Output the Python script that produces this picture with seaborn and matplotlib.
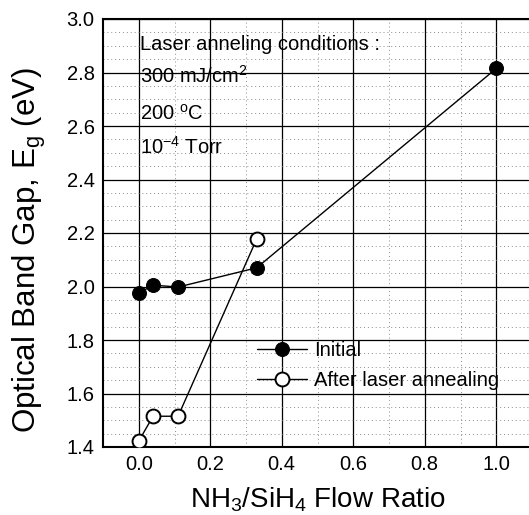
import numpy as np
import pandas as pd
import matplotlib
matplotlib.use("Agg")
import matplotlib.pyplot as plt
import seaborn as sns
from matplotlib.ticker import MultipleLocator, FormatStrFormatter

# =========================
# Data
# =========================
ratio_initial = [0.0, 0.04, 0.11, 0.33, 1.0]
gap_initial = [1.975, 2.005, 1.998, 2.07, 2.815]

ratio_after = [0.0, 0.04, 0.11, 0.33]
gap_after = [1.422, 1.515, 1.515, 2.178]

series_labels = ["Initial", "After laser annealing"]
xticks = [0.0, 0.2, 0.4, 0.6, 0.8, 1.0]
yticks = [1.4, 1.6, 1.8, 2.0, 2.2, 2.4, 2.6, 2.8, 3.0]

conditions_text = [
    "Laser anneling conditions :",
    "300 mJ/cm$^2$",
    "200 $^o$C",
    "10$^{-4}$ Torr",
]

df_init = pd.DataFrame({"ratio": ratio_initial, "gap": gap_initial})
df_after = pd.DataFrame({"ratio": ratio_after, "gap": gap_after})

# =========================
# Style
# =========================
sns.set_style("white")
plt.rcParams["font.family"] = ["Liberation Sans", "DejaVu Sans"]
plt.rcParams["mathtext.default"] = "regular"
for key in ["text.color", "axes.labelcolor", "xtick.color", "ytick.color"]:
    plt.rcParams[key] = "black"

fig = plt.figure(figsize=(5.29, 5.15), dpi=100)
ax = fig.add_axes([103 / 529, 68 / 515, 429 / 529, 428 / 515])

sns.lineplot(
    data=df_init, x="ratio", y="gap", sort=False, estimator=None,
    color="black", linewidth=1.0, marker="o", markersize=10,
    markerfacecolor="black", markeredgecolor="black",
    label=series_labels[0], ax=ax, zorder=5,
)
sns.lineplot(
    data=df_after, x="ratio", y="gap", sort=False, estimator=None,
    color="black", linewidth=1.0, marker="o", markersize=10,
    markerfacecolor="white", markeredgecolor="black", markeredgewidth=1.4,
    label=series_labels[1], ax=ax, zorder=5,
)

# axes limits / ticks
ax.set_xlim(-0.1, 1.1)
ax.set_ylim(1.4, 3.0)
ax.set_xticks(xticks)
ax.set_yticks(yticks)
ax.xaxis.set_major_formatter(FormatStrFormatter("%.1f"))
ax.yaxis.set_major_formatter(FormatStrFormatter("%.1f"))
ax.xaxis.set_minor_locator(MultipleLocator(0.1))
ax.yaxis.set_minor_locator(MultipleLocator(0.05))
ax.tick_params(which="major", direction="in", length=4, width=1,
               labelsize=14.5, pad=6, colors="black")
ax.tick_params(which="minor", direction="in", length=3, width=0.8,
               colors="black")

# grid: solid major, dotted minor
ax.grid(which="major", color="black", linestyle="-", linewidth=0.9)
ax.grid(which="minor", color="#8a8a8a", linestyle=(0, (1, 3)), linewidth=0.7)
ax.set_axisbelow(True)

for sp in ax.spines.values():
    sp.set_linewidth(1.5)
    sp.set_color("black")

ax.set_xlabel("NH$_3$/SiH$_4$ Flow Ratio", fontsize=20, labelpad=8)
ax.set_ylabel("Optical Band Gap, E$_g$ (eV)", fontsize=22.5)
ax.yaxis.set_label_coords(-0.128, 0.46)

# annealing conditions
text_y = [0.928, 0.850, 0.764, 0.685]
for txt, ty in zip(conditions_text, text_y):
    ax.text(0.086, ty, txt, transform=ax.transAxes, fontsize=14.5,
            ha="left", va="baseline", zorder=6)

# legend
handles = ax.get_lines()[:2]
ax.legend(
    handles=handles, labels=series_labels,
    loc="center left", bbox_to_anchor=(257 / 529, (515 - 365.5) / 515),
    bbox_transform=fig.transFigure, frameon=False, fontsize=14.5,
    handlelength=2.5, handletextpad=0.35, labelspacing=0.55,
    borderpad=0, borderaxespad=0,
)

plt.savefig("out.png", dpi=100)
plt.close()
